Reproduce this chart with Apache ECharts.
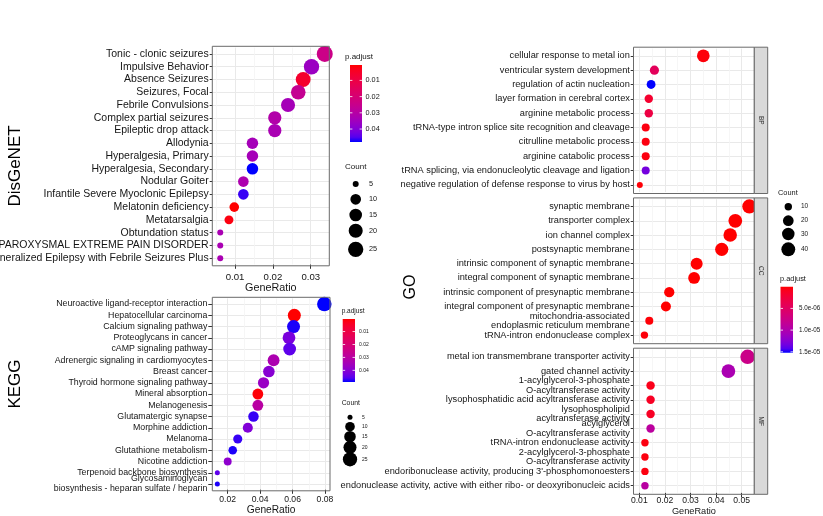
<!DOCTYPE html>
<html><head><meta charset="utf-8">
<script src="https://cdn.jsdelivr.net/npm/echarts@6/dist/echarts.min.js"></script>
<style>html,body{margin:0;padding:0;background:#fff}#c{width:823px;height:516px}</style>
</head><body><div id="c"></div>
<script>
// ---------------- DATA ----------------
const dgnTerms = ["Tonic - clonic seizures","Impulsive Behavior","Absence Seizures","Seizures, Focal","Febrile Convulsions","Complex partial seizures","Epileptic drop attack","Allodynia","Hyperalgesia, Primary","Hyperalgesia, Secondary","Nodular Goiter","Infantile Severe Myoclonic Epilepsy","Melatonin deficiency","Metatarsalgia","Obtundation status","PAROXYSMAL EXTREME PAIN DISORDER","Generalized Epilepsy with Febrile Seizures Plus"];
const dgnRatio = [0.0337,0.0302,0.0280,0.0267,0.0240,0.0205,0.0205,0.0146,0.0146,0.0146,0.0122,0.0122,0.0098,0.0084,0.0061,0.0061,0.0061];
const dgnCount = [28,25,23,22,20,17,17,12,12,12,10,10,8,7,5,5,5];
const dgnPadj = [0.024,0.036,0.006,0.026,0.034,0.031,0.033,0.034,0.034,0.048,0.032,0.046,0.0005,0.002,0.033,0.033,0.033];

const keggTerms = ["Neuroactive ligand-receptor interaction","Hepatocellular carcinoma","Calcium signaling pathway","Proteoglycans in cancer","cAMP signaling pathway","Adrenergic signaling in cardiomyocytes","Breast cancer","Thyroid hormone signaling pathway","Mineral absorption","Melanogenesis","Glutamatergic synapse","Morphine addiction","Melanoma","Glutathione metabolism","Nicotine addiction","Terpenoid backbone biosynthesis","Glycosaminoglycan\nbiosynthesis - heparan sulfate / heparin"];
const keggRatio = [0.0796,0.0611,0.0606,0.0578,0.0582,0.0483,0.0454,0.0421,0.0386,0.0386,0.0359,0.0324,0.0262,0.0231,0.0200,0.0136,0.0136];
const keggCount = [26,20,20,19,19,16,15,14,13,13,12,11,9,8,7,5,5];
const keggPadj = [0.049,0.0003,0.048,0.042,0.045,0.033,0.040,0.037,0.001,0.030,0.047,0.041,0.047,0.048,0.039,0.045,0.048];

const bpTerms = ["cellular response to metal ion","ventricular system development","regulation of actin nucleation","layer formation in cerebral cortex","arginine metabolic process","tRNA-type intron splice site recognition and cleavage","citrulline metabolic process","arginine catabolic process","tRNA splicing, via endonucleolytic cleavage and ligation","negative regulation of defense response to virus by host"];
const bpRatio = [0.0350,0.0159,0.0146,0.0137,0.0137,0.0125,0.0125,0.0125,0.0125,0.0102];
const bpCount = [31,14,13,12,12,11,11,11,11,9];
const bpPadj = [3e-7,4.5e-6,1.52e-5,1.8e-6,3e-6,5e-7,5e-7,5e-7,1.32e-5,2e-7];

const ccTerms = ["synaptic membrane","transporter complex","ion channel complex","postsynaptic membrane","intrinsic component of synaptic membrane","integral component of synaptic membrane","intrinsic component of presynaptic membrane","integral component of presynaptic membrane","mitochondria-associated\nendoplasmic reticulum membrane","tRNA-intron endonuclease complex"];
const ccRatio = [0.0530,0.0475,0.0455,0.0422,0.0324,0.0314,0.0217,0.0204,0.0139,0.0120];
const ccCount = [43,39,37,35,27,26,18,17,11,10];
const ccPadj = [1e-12,1e-11,2e-11,1e-10,1e-9,2e-9,1e-8,2e-8,2e-7,3e-7];

const mfTerms = ["metal ion transmembrane transporter activity","gated channel activity","1-acylglycerol-3-phosphate\nO-acyltransferase activity","lysophosphatidic acid acyltransferase activity","lysophospholipid\nacyltransferase activity","acylglycerol\nO-acyltransferase activity","tRNA-intron endonuclease activity","2-acylglycerol-3-phosphate\nO-acyltransferase activity","endoribonuclease activity, producing 3'-phosphomonoesters","endonuclease activity, active with either ribo- or deoxyribonucleic acids"];
const mfRatio = [0.0523,0.0448,0.0144,0.0144,0.0144,0.0144,0.0122,0.0122,0.0122,0.0122];
const mfCount = [45,39,12,12,12,12,10,10,10,10];
const mfPadj = [7.6e-6,1.03e-5,8e-7,1.2e-6,1.2e-6,9e-6,5e-7,5e-7,5e-7,9.2e-6];

// tick labels
const dgnTicks = [0.01,0.02,0.03];
const keggTicks = [0.02,0.04,0.06,0.08];
const goTicks = [0.01,0.02,0.03,0.04,0.05];
const dgnPTicks = [0.01,0.02,0.03,0.04];
const keggPTicks = [0.01,0.02,0.03,0.04];
const goPTicks = [5e-6,1e-5,1.5e-5];
const dgnCountBreaks = [5,10,15,20,25];
const keggCountBreaks = [5,10,15,20,25];
const goCountBreaks = [10,20,30,40];

// ---------------- STYLE / LAYOUT ----------------
const FONT = '"Liberation Sans", Arial, Helvetica, sans-serif';
const TXT = '#151515';
const MAJOR = '#e9e9e9', MINOR = '#f4f4f4', BORDER = '#6a6a6a', TICK = '#333';

// Lab interpolation red -> blue (ggplot-like gradient)
function s2l(c){c/=255;return c<=0.04045?c/12.92:Math.pow((c+0.055)/1.055,2.4);}
function l2s(v){v=Math.max(0,Math.min(1,v));const s=v<=0.0031308?12.92*v:1.055*Math.pow(v,1/2.4)-0.055;return Math.round(s*255);}
function rgb2lab(c){const R=s2l(c[0]),G=s2l(c[1]),B=s2l(c[2]);
  const X=(0.4124*R+0.3576*G+0.1805*B)/0.95047,Y=(0.2126*R+0.7152*G+0.0722*B),Z=(0.0193*R+0.1192*G+0.9505*B)/1.08883;
  const f=t=>t>0.008856?Math.cbrt(t):7.787*t+16/116;const fx=f(X),fy=f(Y),fz=f(Z);
  return [116*fy-16,500*(fx-fy),200*(fy-fz)];}
function lab2hex(L){const fy=(L[0]+16)/116,fx=fy+L[1]/500,fz=fy-L[2]/200;
  const fi=t=>t>0.206893?t*t*t:(t-16/116)/7.787;const X=0.95047*fi(fx),Y=fi(fy),Z=1.08883*fi(fz);
  const r=l2s(3.2406*X-1.5372*Y-0.4986*Z),g=l2s(-0.9689*X+1.8758*Y+0.0415*Z),b=l2s(0.0557*X-0.2040*Y+1.0570*Z);
  return '#'+[r,g,b].map(v=>v.toString(16).padStart(2,'0')).join('');}
const labR=rgb2lab([255,0,0]), labB=rgb2lab([0,0,255]);
const COLORS=[];for(let k=0;k<=16;k++){const t=k/16;COLORS.push(lab2hex([0,1,2].map(j=>labR[j]+(labB[j]-labR[j])*t)));}

function sizeFn(cmin,cmax,dmin,dmax){return c=>dmin+(dmax-dmin)*Math.sqrt(Math.max(0,(c-cmin))/(cmax-cmin));}
const goCounts = bpCount.concat(ccCount, mfCount);
const dgnSize = sizeFn(Math.min(...dgnCount),Math.max(...dgnCount),6,16);
const keggSize = sizeFn(Math.min(...keggCount),Math.max(...keggCount),5,14.5);
const goSize = sizeFn(Math.min(...goCounts),Math.max(...goCounts),6,14.5);

const panels = [
  {terms:dgnTerms,ratio:dgnRatio,count:dgnCount,padj:dgnPadj,size:dgnSize,left:212.3,top:46.3,width:117,height:219.5,xmin:0.0040,xmax:0.0349,ticks:dgnTicks,showX:true,yFont:10.5,yMargin:3.6,yTick:2.6,lh:11,xFont:9.6,xLabelY:276.7,nameY:287.3,nameFont:10.8},
  {terms:keggTerms,ratio:keggRatio,count:keggCount,padj:keggPadj,size:keggSize,left:212.3,top:297.3,width:117.7,height:193.5,xmin:0.0105,xmax:0.0831,ticks:keggTicks,showX:true,yFont:8.8,yMargin:5,yTick:4,lh:10,xFont:8.6,xLabelY:499.3,nameY:509.5,nameFont:10.2},
  {terms:bpTerms,ratio:bpRatio,count:bpCount,padj:bpPadj,size:goSize,left:633.5,top:47.2,width:120.8,height:146.3,xmin:0.00773,xmax:0.05492,ticks:goTicks,showX:false,yFont:9.25,yMargin:3.6,yTick:2.8,lh:9.5},
  {terms:ccTerms,ratio:ccRatio,count:ccCount,padj:ccPadj,size:goSize,left:633.5,top:197.9,width:120.8,height:145.8,xmin:0.00773,xmax:0.05492,ticks:goTicks,showX:false,yFont:9.25,yMargin:3.6,yTick:2.8,lh:9.5},
  {terms:mfTerms,ratio:mfRatio,count:mfCount,padj:mfPadj,size:goSize,left:633.5,top:348.2,width:120.8,height:146.1,xmin:0.00773,xmax:0.05492,ticks:goTicks,showX:true,yFont:9.25,yMargin:3.6,yTick:2.8,lh:9.5,xFont:8.6,xLabelY:500.6,nameY:511.7,nameFont:9.2}
];

function minorOf(ticks,lo,hi){const st=ticks[1]-ticks[0];const out=[];
  for(let v=ticks[0]-st/2;v<hi;v+=st){if(v>lo)out.push(+v.toFixed(6));}return out;}

const grids=[],xAxes=[],yAxes=[],series=[];
panels.forEach((p,i)=>{
  const n=p.terms.length,u=p.height/(n+0.2);   // ggplot discrete expansion: 0.6 unit each side
  const gTop=p.top+0.1*u,gH=n*u,gBottom=gTop+gH,ext=0.1*u;
  grids.push({left:p.left,top:gTop,width:p.width,height:gH,show:false,containLabel:false,outerBoundsMode:'none'});
  xAxes.push({type:'value',gridIndex:i,position:'bottom',offset:0,min:p.xmin,max:p.xmax,axisLine:{show:false},
    axisTick:{show:false,customValues:minorOf(p.ticks,p.xmin,p.xmax)},axisLabel:{show:false},
    splitLine:{show:true,lineStyle:{color:MINOR,width:0.8}}});
  const ax={type:'value',gridIndex:i,position:'bottom',offset:0,min:p.xmin,max:p.xmax,axisLine:{show:false},
    axisTick:{show:p.showX,inside:false,length:3+ext,customValues:p.ticks,lineStyle:{color:TICK,width:1}},
    axisLabel:{show:p.showX,customValues:p.ticks,formatter:v=>v.toFixed(2),color:TXT,fontFamily:FONT,
      fontSize:p.xFont||9,margin:p.showX?(p.xLabelY-p.xFont/2-gBottom):8},
    splitLine:{show:true,lineStyle:{color:MAJOR,width:1}}};
  if(p.showX){ax.name='GeneRatio';ax.nameLocation='middle';ax.nameGap=p.nameY-p.nameFont/2-gBottom;
    ax.nameTextStyle={fontSize:p.nameFont,fontFamily:FONT,color:TXT};}
  xAxes.push(ax);
  yAxes.push({type:'category',gridIndex:i,position:'left',data:p.terms,inverse:true,axisLine:{show:false},
    axisTick:{show:true,inside:false,alignWithLabel:true,length:p.yTick,lineStyle:{color:TICK,width:1}},
    axisLabel:{interval:0,fontSize:p.yFont,fontFamily:FONT,color:TXT,margin:p.yMargin,lineHeight:p.lh},
    splitLine:{show:true,interval:0,alignWithLabel:true,lineStyle:{color:MAJOR,width:1}}});
  series.push({type:'scatter',xAxisIndex:2*i+1,yAxisIndex:i,clip:false,
    data:p.ratio.map((r,j)=>[r,j,p.count[j],p.padj[j]]),
    symbolSize:(v=>p.size(v[2])),itemStyle:{opacity:1},emphasis:{disabled:true},silent:true});
});

const dgnPmin=Math.min(...dgnPadj),dgnPmax=Math.max(...dgnPadj);
const keggPmin=Math.min(...keggPadj),keggPmax=Math.max(...keggPadj);
const goP=bpPadj.concat(ccPadj,mfPadj);const goPmin=Math.min(...goP),goPmax=Math.max(...goP);
const visualMap=[
  {type:'continuous',show:false,seriesIndex:0,dimension:3,min:dgnPmin,max:dgnPmax,inRange:{color:COLORS}},
  {type:'continuous',show:false,seriesIndex:1,dimension:3,min:keggPmin,max:keggPmax,inRange:{color:COLORS}},
  {type:'continuous',show:false,seriesIndex:[2,3,4],dimension:3,min:goPmin,max:goPmax,inRange:{color:COLORS}}
];

// ---------------- GRAPHIC (frames, strips, legends, titles) ----------------
const G=[];
function txt(x,y,s,fs,opt){opt=opt||{};G.push({type:'text',x:x,y:y,rotation:opt.rot||0,z:20,silent:true,
  style:{text:s,fontSize:fs,fontFamily:opt.font||FONT,fill:opt.fill||TXT,align:opt.align||'left',verticalAlign:'middle'}});}
panels.forEach(p=>{G.push({type:'rect',z:15,silent:true,shape:{x:p.left,y:p.top,width:p.width,height:p.height},
  style:{fill:'none',stroke:BORDER,lineWidth:1}});});
// GO strips
[['BP',2],['CC',3],['MF',4]].forEach(([lab,k])=>{const p=panels[k];
  G.push({type:'rect',z:15,silent:true,shape:{x:p.left+p.width,y:p.top,width:13.4,height:p.height},style:{fill:'#d9d9d9',stroke:BORDER,lineWidth:1}});
  txt(p.left+p.width+6.7,p.top+p.height/2,lab,6.5,{align:'center',rot:-Math.PI/2,fill:'#333'});});
// side titles
txt(15,166,'DisGeNET',17,{align:'center',rot:Math.PI/2,fill:'#000'});
txt(15,384,'KEGG',17,{align:'center',rot:Math.PI/2,fill:'#000'});
txt(411,287,'GO',16,{align:'center',rot:Math.PI/2,fill:'#000'});

function colorbar(o){
  txt(o.titleX,o.titleY,'p.adjust',o.tfs);
  const stops=COLORS.map((c,k)=>({offset:k/(COLORS.length-1),color:c}));
  G.push({type:'rect',z:12,silent:true,shape:{x:o.x,y:o.y,width:o.w,height:o.h},
    style:{fill:new echarts.graphic.LinearGradient(0,0,0,1,stops)}});
  o.ticks.forEach(v=>{const yy=o.y+(v-o.min)/(o.max-o.min)*o.h;
    G.push({type:'line',z:13,silent:true,shape:{x1:o.x,y1:yy,x2:o.x+o.w*0.2,y2:yy},style:{stroke:'#fff',lineWidth:0.8}});
    G.push({type:'line',z:13,silent:true,shape:{x1:o.x+o.w*0.8,y1:yy,x2:o.x+o.w,y2:yy},style:{stroke:'#fff',lineWidth:0.8}});
    txt(o.labX,yy,o.fmt(v),o.lfs);});
}
function sizeLegend(o){
  txt(o.titleX,o.titleY,'Count',o.tfs);
  o.breaks.forEach((b,k)=>{G.push({type:'circle',z:12,silent:true,shape:{cx:o.cx,cy:o.ys[k],r:o.size(b)/2},style:{fill:'#000'}});
    txt(o.labX,o.ys[k],String(b),o.lfs);});
}
const f2=v=>v.toFixed(2);
const fe=v=>v.toExponential(1).replace(/e([+-])(\d)$/,'e$10$2');
colorbar({x:350,y:65,w:12,h:77,min:dgnPmin,max:dgnPmax,ticks:dgnPTicks,fmt:f2,titleX:345,titleY:57,tfs:8,lfs:7.3,labX:365.5});
sizeLegend({titleX:345,titleY:166.5,cx:355.7,ys:[184,199.3,215,230.7,249.3],breaks:dgnCountBreaks,size:dgnSize,labX:369,tfs:8,lfs:7.3});
colorbar({x:342.7,y:319,w:12.3,h:63,min:keggPmin,max:keggPmax,ticks:keggPTicks,fmt:f2,titleX:341.7,titleY:311.7,tfs:6.5,lfs:5,labX:359});
sizeLegend({titleX:341.7,titleY:403.3,cx:350,ys:[417.3,426.7,436.7,447.3,459.3],breaks:keggCountBreaks,size:keggSize,labX:362,tfs:6.8,lfs:5});
sizeLegend({titleX:778,titleY:192.7,cx:788.3,ys:[206.7,220.7,234,249.3],breaks:goCountBreaks,size:goSize,labX:801,tfs:7.4,lfs:6.5});
colorbar({x:780.5,y:286.7,w:12.5,h:66,min:goPmin,max:goPmax,ticks:goPTicks,fmt:fe,titleX:780,titleY:279,tfs:7.4,lfs:6.3,labX:799});

const chart=echarts.init(document.getElementById('c'),null,{renderer:'canvas',width:823,height:516});
chart.setOption({animation:false,backgroundColor:'#fff',grid:grids,xAxis:xAxes,yAxis:yAxes,series:series,visualMap:visualMap,graphic:{elements:G}});
</script></body></html>
